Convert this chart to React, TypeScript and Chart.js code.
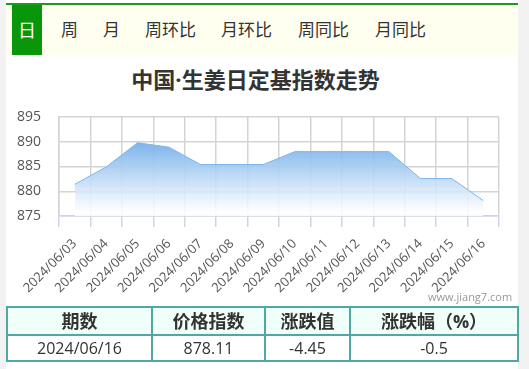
import React, { useEffect, useRef } from "react";
import { Chart, registerables } from "chart.js";

Chart.register(...registerables);

const categories = [
  "2024/06/03", "2024/06/04", "2024/06/05", "2024/06/06", "2024/06/07",
  "2024/06/08", "2024/06/09", "2024/06/10", "2024/06/11", "2024/06/12",
  "2024/06/13", "2024/06/14", "2024/06/15", "2024/06/16",
];
const indexValues = [
  881.4, 884.9, 889.8, 888.9, 885.4, 885.4, 885.4, 888.0, 888.0, 888.0, 888.0,
  882.56, 882.56, 878.11,
];
const yTicks = [875, 880, 885, 890, 895];
const tabs = ["日", "周", "月", "周环比", "月环比", "周同比", "月同比"];
const tabLefts = [12, 61, 103, 145, 221, 298, 375];
const title = "中国·生姜日定基指数走势";
const tableHeaders = ["期数", "价格指数", "涨跌值", "涨跌幅（%）"];
const tableRow = ["2024/06/16", "878.11", "-4.45", "-0.5"];
const colWidths = [145, 113, 85, 168];

const FONT = '"Open Sans", "Noto Sans CJK SC", sans-serif';

function ChartCanvas() {
  const ref = useRef<HTMLCanvasElement | null>(null);
  useEffect(() => {
    if (!ref.current) return;
    const chart = new Chart(ref.current, {
      type: "line",
      data: {
        labels: categories,
        datasets: [
          {
            data: indexValues,
            borderColor: "#7cb5ec",
            borderWidth: 1,
            pointRadius: 0,
            tension: 0,
            fill: "start",
            backgroundColor: (ctx: any) => {
              const c = ctx.chart;
              const area = c.chartArea;
              if (!area) return "rgba(124,181,236,0.8)";
              const yScale = c.scales.y;
              const top = yScale.getPixelForValue(Math.max(...indexValues));
              const g = c.ctx.createLinearGradient(0, top, 0, area.bottom - 4);
              g.addColorStop(0, "rgba(118,176,234,0.95)");
              g.addColorStop(1, "rgba(255,255,255,0.85)");
              return g;
            },
          },
        ],
      },
      options: {
        animation: false,
        responsive: false,
        maintainAspectRatio: false,
        layout: { padding: { top: 17, right: 30, left: 0, bottom: 0 } },
        plugins: { legend: { display: false }, tooltip: { enabled: false } },
        scales: {
          x: {
            offset: true,
            grid: {
              offset: true,
              color: "#d4d4d4",
              tickColor: "#ccd6eb",
              tickLength: 11,
              lineWidth: 1.5,
            },
            border: { color: "#ccd6eb", width: 1.5 },
            ticks: {
              autoSkip: false,
              minRotation: 45,
              maxRotation: 45,
              color: "#555",
              padding: 9,
              font: { family: FONT, size: 13 },
            },
            afterFit: (scale: any) => {
              scale.height = 84;
            },
          },
          y: {
            min: 875,
            max: 895,
            afterBuildTicks: (scale: any) => {
              scale.ticks = yTicks.map((v) => ({ value: v }));
            },
            grid: {
              color: "#d4d4d4",
              lineWidth: 1.5,
              drawTicks: true,
              tickLength: 16,
              tickColor: "rgba(0,0,0,0)",
            },
            border: { color: "#d4d4d4", width: 1.5 },
            ticks: {
              color: "#555",
              padding: 2,
              font: { family: FONT, size: 14 },
            },
            afterFit: (scale: any) => {
              scale.width = 59;
            },
          },
        },
      },
    });
    return () => chart.destroy();
  }, []);
  return (
    <canvas
      ref={ref}
      width={529}
      height={200}
      style={{ position: "absolute", left: 0, top: 100, width: 529, height: 200 }}
    />
  );
}

export default function App() {
  useEffect(() => {
    document.body.style.margin = "0";
  }, []);
  const cellBorder = "2px solid #4fa8a3";
  return (
    <div
      style={{
        position: "absolute",
        left: 0,
        top: 0,
        width: 529,
        height: 369,
        background: "#f2f2f2",
        fontFamily: FONT,
        overflow: "hidden",
      }}
    >
      <div
        style={{
          position: "absolute",
          left: 6,
          top: 0,
          width: 512,
          height: 369,
          background: "#fff",
        }}
      />
      <div
        style={{
          position: "absolute",
          left: 6,
          top: 3,
          width: 512,
          height: 2,
          background: "#1b9a1b",
        }}
      />
      <div
        style={{
          position: "absolute",
          left: 6,
          top: 5,
          width: 512,
          height: 50,
          background: "#fffff0",
        }}
      />
      {tabs.map((t, i) =>
        i === 0 ? (
          <div
            key={t}
            style={{
              position: "absolute",
              left: tabLefts[i],
              top: 5,
              width: 30,
              height: 50,
              background: "#0a960a",
              color: "#fff",
              fontSize: 18,
              lineHeight: "50px",
              textAlign: "center",
            }}
          >
            {t}
          </div>
        ) : (
          <div
            key={t}
            style={{
              position: "absolute",
              left: tabLefts[i],
              top: 5,
              height: 50,
              color: "#333",
              fontSize: 17,
              lineHeight: "50px",
              whiteSpace: "nowrap",
            }}
          >
            {t}
          </div>
        )
      )}
      <div
        style={{
          position: "absolute",
          left: 0,
          width: 511,
          top: 64,
          textAlign: "center",
          fontSize: 22,
          fontWeight: "bold",
          color: "#333",
          lineHeight: "30px",
          whiteSpace: "nowrap",
        }}
      >
        {title}
      </div>
      <ChartCanvas />
      <div
        style={{
          position: "absolute",
          left: 428,
          top: 289,
          fontSize: 11,
          color: "#999",
          whiteSpace: "nowrap",
        }}
      >
        www.jiang7.com
      </div>
      <table
        style={{
          position: "absolute",
          left: 6,
          top: 306,
          width: 511,
          borderCollapse: "collapse",
          tableLayout: "fixed",
          fontFamily: FONT,
        }}
      >
        <colgroup>
          {colWidths.map((w, i) => (
            <col key={i} style={{ width: w }} />
          ))}
        </colgroup>
        <tbody>
          <tr style={{ background: "#f0fffa", height: 28 }}>
            {tableHeaders.map((h) => (
              <td
                key={h}
                style={{
                  border: cellBorder,
                  textAlign: "center",
                  fontWeight: "bold",
                  fontSize: 18,
                  lineHeight: "24px",
                  color: "#333",
                  padding: 0,
                }}
              >
                {h}
              </td>
            ))}
          </tr>
          <tr style={{ height: 26 }}>
            {tableRow.map((v, i) => (
              <td
                key={i}
                style={{
                  border: cellBorder,
                  textAlign: "center",
                  fontSize: 16,
                  lineHeight: "22px",
                  color: "#333",
                  padding: 0,
                }}
              >
                {v}
              </td>
            ))}
          </tr>
        </tbody>
      </table>
    </div>
  );
}
